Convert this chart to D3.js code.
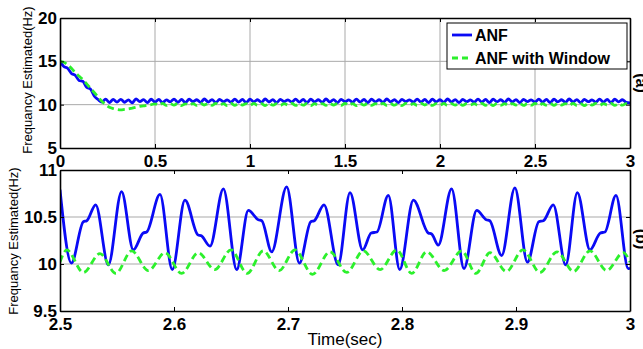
<!DOCTYPE html>
<html>
<head>
<meta charset="utf-8">
<script src="https://cdn.jsdelivr.net/npm/d3@7"></script>
<style>
  html, body { margin: 0; padding: 0; background: #fff; }
  svg { display: block; }
  text { font-family: "Liberation Sans", Arial, sans-serif; }
</style>
</head>
<body>
<svg id="chart" width="643" height="349"></svg>
<script>
// ---------------- DATA ----------------
const seriesNames = ["ANF", "ANF with Window"];

// Top panel (a): sampled every 0.02 s from 0 to 3 s
const topStep = 0.02;
const topANF = [
  15.0, 14.4, 14.2, 13.6, 13.4, 12.8, 12.7, 12.0, 11.8, 11.0,
  10.6, 10.3, 10.65, 10.25, 10.6, 10.3, 10.62, 10.28, 10.55, 10.22,
  10.66, 10.35, 10.58, 10.25, 10.64, 10.3, 10.6, 10.22, 10.56, 10.33,
  10.65, 10.27, 10.6, 10.24, 10.63, 10.35, 10.57, 10.26, 10.66, 10.3,
  10.59, 10.23, 10.62, 10.34, 10.56, 10.27, 10.65, 10.29, 10.6, 10.24,
  10.63, 10.33, 10.57, 10.26, 10.66, 10.31, 10.58, 10.23, 10.62, 10.35,
  10.56, 10.28, 10.65, 10.29, 10.6, 10.24, 10.64, 10.32, 10.57, 10.26,
  10.66, 10.3, 10.59, 10.23, 10.62, 10.34, 10.56, 10.27, 10.65, 10.29,
  10.6, 10.24, 10.63, 10.33, 10.57, 10.26, 10.66, 10.31, 10.58, 10.23,
  10.62, 10.35, 10.56, 10.28, 10.65, 10.29, 10.6, 10.24, 10.64, 10.32,
  10.57, 10.26, 10.66, 10.3, 10.59, 10.23, 10.62, 10.34, 10.56, 10.27,
  10.65, 10.29, 10.6, 10.24, 10.63, 10.33, 10.57, 10.26, 10.66, 10.31,
  10.58, 10.23, 10.62, 10.35, 10.56, 10.28, 10.65, 10.29, 10.6, 10.24,
  10.64, 10.32, 10.57, 10.26, 10.66, 10.3, 10.59, 10.23, 10.62, 10.34,
  10.56, 10.27, 10.65, 10.29, 10.6, 10.24, 10.63, 10.33, 10.57, 10.26, 10.2
];
const topWindow = [
  15.0, 14.9, 14.6, 14.2, 13.7, 13.3, 12.9, 12.4, 11.9, 11.4,
  10.9, 10.4, 10.0, 9.7, 9.55, 9.45, 9.4, 9.45, 9.5, 9.6,
  9.7, 9.8, 9.85, 9.95, 10.0, 10.1, 9.95, 10.14, 9.92, 10.12,
  9.95, 10.15, 9.9, 10.1, 9.94, 10.13, 9.91, 10.14, 9.96, 10.11,
  9.92, 10.14, 9.95, 10.12, 9.9, 10.15, 9.93, 10.11, 9.96, 10.13,
  9.91, 10.14, 9.94, 10.12, 9.9, 10.15, 9.95, 10.11, 9.92, 10.13,
  9.96, 10.14, 9.91, 10.12, 9.94, 10.15, 9.9, 10.11, 9.95, 10.13,
  9.92, 10.14, 9.96, 10.12, 9.91, 10.15, 9.93, 10.11, 9.9, 10.13,
  9.95, 10.14, 9.92, 10.12, 9.96, 10.15, 9.91, 10.11, 9.94, 10.13,
  9.9, 10.14, 9.95, 10.12, 9.92, 10.15, 9.96, 10.11, 9.91, 10.13,
  9.94, 10.14, 9.9, 10.12, 9.95, 10.15, 9.92, 10.11, 9.96, 10.13,
  9.91, 10.14, 9.93, 10.12, 9.9, 10.15, 9.95, 10.11, 9.92, 10.13,
  9.96, 10.14, 9.91, 10.12, 9.94, 10.15, 9.9, 10.11, 9.95, 10.13,
  9.92, 10.14, 9.96, 10.12, 9.91, 10.15, 9.93, 10.11, 9.9, 10.13,
  9.95, 10.14, 9.92, 10.12, 9.96, 10.15, 9.91, 10.11, 9.94, 10.13, 10.02
];

// Bottom panel (b): zoom 2.5 - 3 s, key points
const botANFTime = [
  2.5000, 2.5100, 2.5205, 2.5235, 2.5313, 2.5424, 2.5540, 2.5643, 2.5730, 2.5760,
  2.5877, 2.5985, 2.6096, 2.6210, 2.6240, 2.6316, 2.6433, 2.6550, 2.6652, 2.6740,
  2.6770, 2.6857, 2.6988, 2.7100, 2.7200, 2.7230, 2.7316, 2.7440, 2.7544, 2.7655,
  2.7730, 2.7780, 2.7880, 2.7980, 2.8100, 2.8230, 2.8260, 2.8318, 2.8435, 2.8544,
  2.8655, 2.8740, 2.8770, 2.8874, 2.8990, 2.9100, 2.9200, 2.9240, 2.9327, 2.9436,
  2.9538, 2.9649, 2.9740, 2.9780, 2.9877, 2.9985, 3.0000
];
const botANF = [
  10.79, 10.01, 10.45, 10.46, 10.63, 9.99, 10.77, 10.15, 10.33, 10.34,
  10.74, 9.94, 10.68, 10.31, 10.30, 10.19, 10.80, 9.94, 10.57, 10.47,
  10.46, 10.13, 10.82, 10.01, 10.45, 10.46, 10.63, 9.99, 10.76, 10.15,
  10.33, 10.34, 10.73, 9.94, 10.68, 10.33, 10.32, 10.20, 10.80, 9.95,
  10.57, 10.47, 10.46, 10.09, 10.81, 10.02, 10.45, 10.46, 10.63, 9.99,
  10.76, 10.15, 10.33, 10.34, 10.73, 9.95, 9.96
];
const botWindowTime = [
  2.5000, 2.5059, 2.5205, 2.5351, 2.5490, 2.5629, 2.5775, 2.5921, 2.6067, 2.6213,
  2.6357, 2.6500, 2.6642, 2.6783, 2.6922, 2.7061, 2.7215, 2.7368, 2.7515, 2.7661,
  2.7808, 2.7954, 2.8085, 2.8217, 2.8370, 2.8524, 2.8648, 2.8772, 2.8916, 2.9061,
  2.9210, 2.9360, 2.9505, 2.9649, 2.9795, 2.9941, 3.0000
];
const botWindow = [
  10.02, 10.15, 9.91, 10.11, 9.90, 10.14, 9.93, 10.12, 9.90, 10.12,
  9.94, 10.15, 9.90, 10.14, 9.93, 10.15, 9.89, 10.13, 9.91, 10.14,
  9.94, 10.15, 9.90, 10.13, 9.93, 10.14, 9.90, 10.12, 9.92, 10.15,
  9.91, 10.13, 9.92, 10.14, 9.93, 10.12, 10.02
];

const topXTicks = [0, 0.5, 1, 1.5, 2, 2.5, 3];
const topYTicks = [5, 10, 15, 20];
const botXTicks = [2.5, 2.6, 2.7, 2.8, 2.9, 3];
const botYTicks = [9.5, 10, 10.5, 11];
const yLabel = "Frequancy Estimated(Hz)";
const xLabel = "Time(sec)";

// ---------------- DRAW ----------------
const svg = d3.select("#chart");
svg.append("rect").attr("width", 643).attr("height", 349).attr("fill", "#fff");

const BLUE = "#0a0af5";
const GREEN = "#2cf02c";
const GRID = "#a9a9a9";

function panel(opts) {
  const x = d3.scaleLinear().domain(opts.xDomain).range([60, 630]);
  const y = d3.scaleLinear().domain(opts.yDomain).range([opts.bottom, opts.top]);
  const g = svg.append("g");

  // grid
  if (opts.xGrid) {
    g.selectAll(".vg").data(opts.xTicks.slice(1, -1)).enter().append("line")
      .attr("x1", d => x(d)).attr("x2", d => x(d))
      .attr("y1", opts.top).attr("y2", opts.bottom)
      .attr("stroke", GRID).attr("stroke-width", 1);
  }
  g.selectAll(".hg").data(opts.yTicks.slice(1, -1)).enter().append("line")
    .attr("x1", 60).attr("x2", 630)
    .attr("y1", d => y(d)).attr("y2", d => y(d))
    .attr("stroke", GRID).attr("stroke-width", 1);

  // data
  const clipId = "clip" + opts.id;
  svg.append("clipPath").attr("id", clipId).append("rect")
    .attr("x", 60).attr("y", opts.top).attr("width", 570).attr("height", opts.bottom - opts.top);
  const lines = g.append("g").attr("clip-path", `url(#${clipId})`);
  const line = d3.line().x(d => x(d[0])).y(d => y(d[1])).curve(d3.curveMonotoneX);
  lines.append("path").datum(opts.anf)
    .attr("d", line).attr("fill", "none").attr("stroke", BLUE)
    .attr("stroke-width", 2.8).attr("stroke-linejoin", "round");
  lines.append("path").datum(opts.win)
    .attr("d", line).attr("fill", "none").attr("stroke", GREEN)
    .attr("stroke-width", 2.8).attr("stroke-dasharray", "7,4");

  // axes
  const fmt = d => String(d);
  const axB = g.append("g").attr("transform", `translate(0,${opts.bottom})`)
    .call(d3.axisBottom(x).tickValues(opts.xTicks).tickFormat(fmt).tickSize(-4).tickSizeOuter(0).tickPadding(7));
  const axT = g.append("g").attr("transform", `translate(0,${opts.top})`)
    .call(d3.axisTop(x).tickValues(opts.xTicks).tickFormat("").tickSize(-4).tickSizeOuter(0));
  const axL = g.append("g").attr("transform", `translate(60,0)`)
    .call(d3.axisLeft(y).tickValues(opts.yTicks).tickFormat(fmt).tickSize(-4).tickSizeOuter(0).tickPadding(3));
  const axR = g.append("g").attr("transform", `translate(630,0)`)
    .call(d3.axisRight(y).tickValues(opts.yTicks).tickFormat("").tickSize(-4).tickSizeOuter(0));
  [axB, axT, axL, axR].forEach(a => {
    a.select(".domain").attr("stroke", "#000").attr("stroke-width", 1.6);
    a.selectAll(".tick line").attr("stroke", "#000").attr("stroke-width", 1);
    a.selectAll("text").attr("font-size", 17).attr("font-weight", "bold")
      .attr("fill", "#000").attr("font-family", "'Liberation Sans', Arial, sans-serif");
  });

  // y label
  svg.append("text")
    .attr("transform", `translate(${opts.yLabelX},${opts.yLabelY}) rotate(-90)`)
    .attr("text-anchor", "middle").attr("font-size", 13).text(yLabel);

  // side label
  svg.append("text")
    .attr("transform", `translate(636,${opts.sideY}) rotate(90)`)
    .attr("text-anchor", "middle").attr("font-size", 16).attr("font-weight", "bold")
    .text(opts.side);
  return { x, y };
}

panel({
  id: "a", xDomain: [0, 3], yDomain: [5, 20], top: 18, bottom: 148,
  xTicks: topXTicks, yTicks: topYTicks, xGrid: true,
  anf: topANF.map((v, i) => [i * topStep, v]),
  win: topWindow.map((v, i) => [i * topStep, v]),
  yLabelX: 32, yLabelY: 80, side: "(a)", sideY: 83
});

panel({
  id: "b", xDomain: [2.5, 3], yDomain: [9.5, 11], top: 170, bottom: 311,
  xTicks: botXTicks, yTicks: botYTicks, xGrid: false,
  anf: botANFTime.map((t, i) => [t, botANF[i]]),
  win: botWindowTime.map((t, i) => [t, botWindow[i]]),
  yLabelX: 18, yLabelY: 241, side: "(b)", sideY: 239
});

// x label
svg.append("text").attr("x", 345).attr("y", 345).attr("text-anchor", "middle")
  .attr("font-size", 17).text(xLabel);

// legend
const lg = svg.append("g");
lg.append("rect").attr("x", 447).attr("y", 23).attr("width", 180).attr("height", 46)
  .attr("fill", "#fff").attr("stroke", "#000").attr("stroke-width", 1);
const legendItems = [
  { name: seriesNames[0], color: BLUE, dash: null, y: 35 },
  { name: seriesNames[1], color: GREEN, dash: "6,4", y: 58 }
];
legendItems.forEach(it => {
  const ln = lg.append("line").attr("x1", 452).attr("x2", 472)
    .attr("y1", it.y).attr("y2", it.y).attr("stroke", it.color).attr("stroke-width", 2.8);
  if (it.dash) ln.attr("stroke-dasharray", it.dash);
  lg.append("text").attr("x", 475).attr("y", it.y + 6).attr("font-size", 16)
    .attr("font-weight", "bold").text(it.name);
});
</script>
</body>
</html>
